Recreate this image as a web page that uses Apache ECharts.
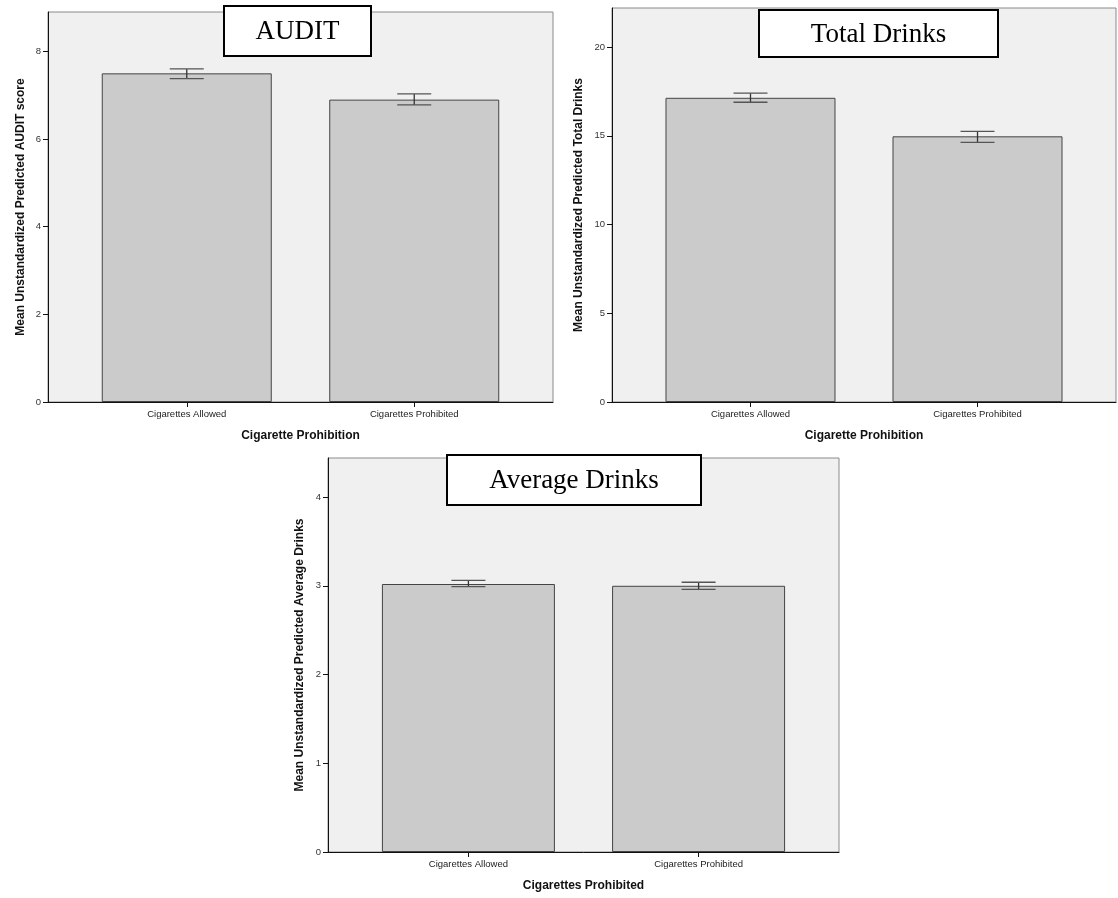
<!DOCTYPE html>
<html>
<head>
<meta charset="utf-8">
<script src="https://cdn.jsdelivr.net/npm/echarts@6/dist/echarts.min.js"></script>
<style>
  html, body { margin: 0; padding: 0; background: #ffffff; }
  #chart { width: 1118px; height: 898px; }
</style>
</head>
<body>
<div id="chart"></div>
<script>
// Group labels shared by all three panels
const categories = ['Cigarettes Allowed', 'Cigarettes Prohibited'];

// AUDIT score: means and error-bar limits
const auditMeans = [7.50, 6.90];
const auditLow = [7.38, 6.78];
const auditHigh = [7.60, 7.03];
const auditTicks = [0, 2, 4, 6, 8];

// Total drinks
const totalMeans = [17.14, 14.97];
const totalLow = [16.89, 14.63];
const totalHigh = [17.40, 15.25];
const totalTicks = [0, 5, 10, 15, 20];

// Average drinks
const avgMeans = [3.02, 3.00];
const avgLow = [2.99, 2.96];
const avgHigh = [3.06, 3.04];
const avgTicks = [0, 1, 2, 3, 4];

const panels = [
  { title: 'AUDIT', means: auditMeans, low: auditLow, high: auditHigh, ticks: auditTicks, max: 8.9,
    yName: 'Mean Unstandardized Predicted AUDIT score', xName: 'Cigarette Prohibition',
    grid: { left: 48, top: 12, width: 505, height: 390 }, nameGap: 21, barWidth: 170,
    box: { x: 223, y: 5, w: 147, h: 50 } },
  { title: 'Total Drinks', means: totalMeans, low: totalLow, high: totalHigh, ticks: totalTicks, max: 22.2,
    yName: 'Mean Unstandardized Predicted Total Drinks', xName: 'Cigarette Prohibition',
    grid: { left: 612, top: 8, width: 504, height: 394 }, nameGap: 27, barWidth: 170,
    box: { x: 758, y: 9, w: 239, h: 47 } },
  { title: 'Average Drinks', means: avgMeans, low: avgLow, high: avgHigh, ticks: avgTicks, max: 4.44,
    yName: 'Mean Unstandardized Predicted Average Drinks', xName: 'Cigarettes Prohibited',
    grid: { left: 328, top: 458, width: 511, height: 394 }, nameGap: 22, barWidth: 173,
    box: { x: 446, y: 454, w: 254, h: 50 } }
];

const sans = '"Liberation Sans", Arial, sans-serif';
const grids = [], xAxes = [], yAxes = [], series = [], graphics = [];

panels.forEach((p, i) => {
  grids.push(Object.assign({
    show: true, backgroundColor: '#f0f0f0', borderColor: '#8a8a8a', borderWidth: 1
  }, p.grid));

  xAxes.push({
    gridIndex: i, type: 'value', min: -0.61, max: 1.61,
    name: p.xName, nameLocation: 'middle', nameGap: 28,
    nameTextStyle: { fontFamily: sans, fontWeight: 'bold', fontSize: 12, color: '#111' },
    axisLine: { show: true, onZero: false, lineStyle: { color: '#111', width: 1 } },
    axisTick: { show: true, customValues: [0, 1], length: 5, lineStyle: { color: '#111' } },
    axisLabel: { customValues: [0, 1], formatter: v => categories[Math.round(v)],
      fontFamily: sans, fontSize: 9.5, color: '#222', margin: 7 },
    splitLine: { show: false }
  });

  yAxes.push({
    gridIndex: i, type: 'value', min: 0, max: p.max,
    name: p.yName, nameLocation: 'middle', nameGap: p.nameGap,
    nameTextStyle: { fontFamily: sans, fontWeight: 'bold', fontSize: 12, color: '#111' },
    axisLine: { show: true, onZero: false, lineStyle: { color: '#111', width: 1 } },
    axisTick: { show: true, customValues: p.ticks, length: 5, lineStyle: { color: '#111' } },
    axisLabel: { customValues: p.ticks, fontFamily: sans, fontSize: 9.5, color: '#333', margin: 7 },
    splitLine: { show: false }
  });

  series.push({
    type: 'bar', xAxisIndex: i, yAxisIndex: i, barWidth: p.barWidth,
    data: p.means.map((v, k) => [k, v]),
    itemStyle: { color: '#cbcbcb', borderColor: '#444', borderWidth: 1 },
    silent: true
  });

  series.push({
    type: 'custom', xAxisIndex: i, yAxisIndex: i, z: 5,
    data: p.means.map((v, k) => [k, p.low[k], p.high[k]]),
    renderItem: (params, api) => {
      const lo = api.coord([api.value(0), api.value(1)]);
      const hi = api.coord([api.value(0), api.value(2)]);
      const half = 17;
      const cap = { stroke: '#555', lineWidth: 1.3 };
      return {
        type: 'group',
        children: [
          { type: 'line', shape: { x1: hi[0], y1: hi[1], x2: lo[0], y2: lo[1] }, style: { stroke: '#333', lineWidth: 1.3 } },
          { type: 'line', shape: { x1: hi[0] - half, y1: hi[1], x2: hi[0] + half, y2: hi[1] }, style: cap },
          { type: 'line', shape: { x1: lo[0] - half, y1: lo[1], x2: lo[0] + half, y2: lo[1] }, style: cap }
        ]
      };
    },
    silent: true
  });

  // Boxed panel caption
  graphics.push({
    type: 'group', left: p.box.x, top: p.box.y, z: 100,
    children: [
      { type: 'rect', shape: { x: 0, y: 0, width: p.box.w, height: p.box.h },
        style: { fill: '#ffffff', stroke: '#000', lineWidth: 2 } },
      { type: 'text', x: p.box.w / 2, y: p.box.h / 2 + 1,
        style: { text: p.title, fill: '#000', font: '27px "Liberation Serif", "Times New Roman", serif',
          align: 'center', verticalAlign: 'middle' } }
    ]
  });
});

const chart = echarts.init(document.getElementById('chart'), null, { renderer: 'canvas' });
chart.setOption({
  animation: false,
  backgroundColor: '#ffffff',
  grid: grids,
  xAxis: xAxes,
  yAxis: yAxes,
  series: series,
  graphic: graphics
});
</script>
</body>
</html>
